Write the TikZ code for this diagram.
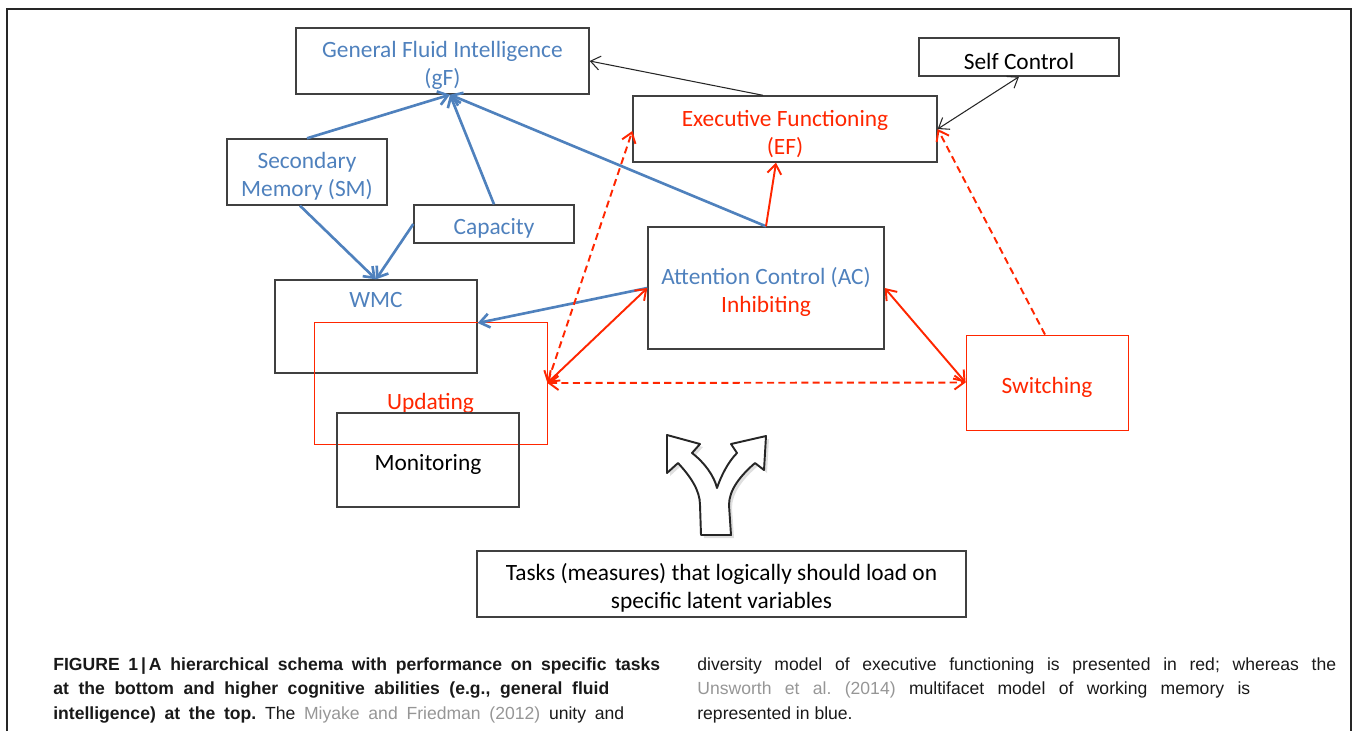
\documentclass[tikz,border=0pt]{standalone}
\usepackage{fontspec}
\setmainfont{Carlito}
\newfontfamily\capfont{Liberation Sans}
\usetikzlibrary{arrows.meta,positioning,calc,shadows}

\definecolor{acblue}{RGB}{79,129,189}
\definecolor{efred}{RGB}{255,38,0}
\definecolor{refgray}{RGB}{150,150,150}

\tikzset{
  box/.style={rectangle, draw=black!75, line width=0.8pt, align=center, inner sep=2pt,
    text height=14.5pt, font=\fontsize{13.3}{15.8}\selectfont},
  redbox/.style={rectangle, draw=efred, line width=0.5pt, align=center,
    text height=14.5pt, font=\fontsize{13.3}{15.8}\selectfont},
  twolines/.style={text height=30.3pt},
  blueline/.style={draw=acblue, line width=1.5pt},
  redline/.style={draw=efred, line width=1.1pt},
  reddash/.style={draw=efred, line width=1.1pt, dash pattern=on 4pt off 2.5pt},
  blackline/.style={draw=black!85, line width=0.6pt},
  captext/.style={anchor=north west, inner sep=0pt, align=left, text=black!90,
    font=\capfont\fontsize{10}{13.9}\selectfont\frenchspacing}
}

\begin{document}
\begin{tikzpicture}[x=0.02cm, y=-0.02cm, >={Straight Barb[length=1.9mm,width=2.8mm]}]
    \useasboundingbox (0,0) rectangle (1354,731);
    \draw[black!85, line width=0.7pt] (7,731) -- (7,9) -- (1351,9) -- (1351,731);

    \node(gf) [box, twolines, text=acblue, minimum width=5.86cm, minimum height=1.32cm] at (442.5,61) {General Fluid Intelligence\\(gF)};
    \node(sc) [box, minimum width=4cm, minimum height=0.76cm] at (1019,57) {Self Control};
    \node(ef) [box, twolines, text=efred, minimum width=6.08cm, minimum height=1.32cm] at (785,129) {Executive Functioning\\(EF)};
    \node(sm) [box, twolines, text=acblue, minimum width=3.2cm, minimum height=1.32cm] at (307,172) {Secondary\\Memory (SM)};
    \node(cap) [box, text=acblue, minimum width=3.2cm, minimum height=0.76cm] at (494,224) {Capacity};
    \node(ac) [box, twolines, minimum width=4.72cm, minimum height=2.44cm] at (766,288) {\textcolor{acblue}{Attention Control (AC)}\\\textcolor{efred}{Inhibiting}};
    \node(wmc) [box, minimum width=4.04cm, minimum height=1.86cm, label={[text=acblue, font=\fontsize{13.3}{15.8}\selectfont, yshift=0.53cm]center:WMC}] at (376,326.5) {};
    \node(upd) [redbox, minimum width=4.66cm, minimum height=2.44cm, label={[text=efred, font=\fontsize{13.3}{15.8}\selectfont, yshift=-0.4cm]center:Updating}] at (430.5,383) {};
    \node(mon) [box, minimum width=3.64cm, minimum height=1.88cm] at (428,460) {Monitoring};
    \node(sw) [redbox, text=efred, minimum width=3.24cm, minimum height=1.9cm] at (1047,382.5) {Switching};
    \node(tasks) [box, twolines, minimum width=9.78cm, minimum height=1.32cm] at (721.5,584) {Tasks (measures) that logically should load on\\specific latent variables};

    % working memory (blue)
    \draw[blueline, ->] (sm.north) -- ([xshift=0.15cm]gf.south);
    \draw[blueline, ->] (cap.north) -- ([xshift=0.15cm]gf.south);
    \draw[blueline, ->] (ac.north) -- ([xshift=0.15cm]gf.south);
    \draw[blueline, ->] ([xshift=-0.14cm]sm.south) -- (wmc.north);
    \draw[blueline, ->] (cap.west) -- (wmc.north);
    \draw[blueline, ->] (ac.west) -- ([yshift=0.07cm]wmc.east);

    % executive functioning (red)
    \draw[redline, ->] (ac.north) -- ([xshift=-0.18cm]ef.south);
    \draw[redline, <->] (upd.east) -- (ac.west);
    \draw[redline, <->] (ac.east) -- (sw.west);
    \draw[reddash, <->] (upd.east) -- ([yshift=-0.04cm]ef.west);
    \draw[reddash, <->] (upd.east) -- (sw.west);
    \draw[reddash, ->] ([xshift=-0.04cm]sw.north) -- (ef.east);

    % black links
    \draw[blackline, ->] ([xshift=-0.44cm]ef.north) -- (gf.east);
    \draw[blackline, <->] (sc.south) -- (ef.east);

    % fork arrow
    \draw[black!85, line width=1.1pt, fill=white, line join=round,
      drop shadow={opacity=0.25, shadow xshift=0.06cm, shadow yshift=-0.06cm}]
      (667,435) -- (700,444) -- (692,453) .. controls (705,463) and (714,476) .. (717,488)
      .. controls (721,476) and (728,462) .. (737,453) -- (731,444) -- (766,436) -- (764,470)
      -- (755,463) .. controls (740,476) and (729,490) .. (729,505) -- (731,535) -- (701,535)
      -- (700,505) .. controls (700,490) and (690,476) .. (678,463) -- (667,473) -- cycle;

    % caption
    \node(capleft) [captext] at (53,653) {\makebox[12.14cm][s]{\strut\bfseries FIGURE 1\,|\,A hierarchical schema with performance on specific tasks}\\
      \makebox[11.12cm][s]{\strut\bfseries at the bottom and higher cognitive abilities (e.g., general fluid}\\
      \makebox[11.42cm][s]{\strut\textbf{intelligence) at the top.} The \textcolor{refgray}{Miyake and Friedman (2012)} unity and}};
    \node(capright) [captext] at (697,653) {\makebox[12.78cm][s]{\strut diversity model of executive functioning is presented in red; whereas the}\\
      \makebox[11.06cm][s]{\strut\textcolor{refgray}{Unsworth et al. (2014)} multifacet model of working memory is}\\
      \strut represented in blue.};
\end{tikzpicture}
\end{document}
